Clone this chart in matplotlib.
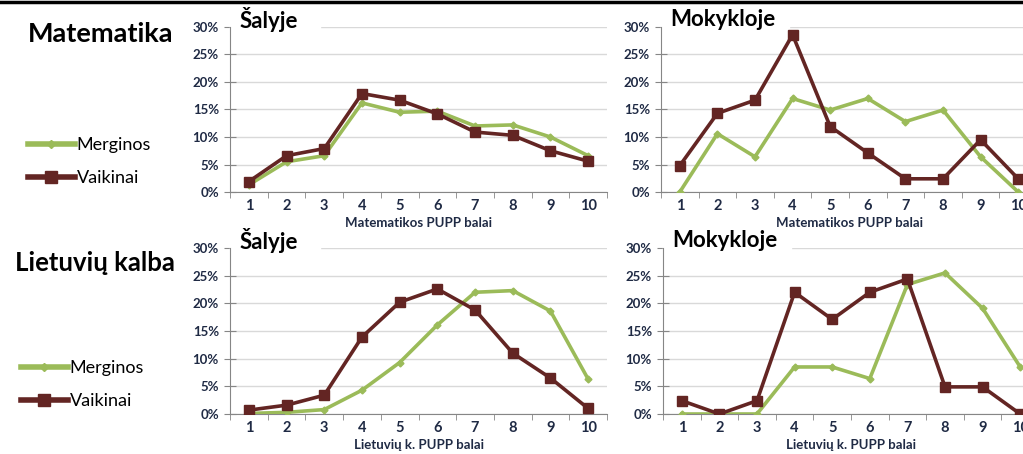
"""PUPP score distributions: girls vs boys, country vs school."""
import matplotlib
matplotlib.use("Agg")
import matplotlib.pyplot as plt
from matplotlib.lines import Line2D
from matplotlib.ticker import PercentFormatter

plt.rcParams['font.family'] = ['Lato', 'DejaVu Sans']

# scores 1..10
scores = [1, 2, 3, 4, 5, 6, 7, 8, 9, 10]

# Matematika, Šalyje (country)
mat_salyje_merg = [1.3, 5.5, 6.6, 16.2, 14.5, 14.7, 12.0, 12.2, 10.0, 6.6]
mat_salyje_vaik = [1.9, 6.6, 7.9, 17.9, 16.7, 14.2, 10.9, 10.3, 7.5, 5.6]
# Matematika, Mokykloje (school)
mat_mok_merg = [0.0, 10.6, 6.4, 17.0, 14.9, 17.0, 12.8, 14.9, 6.4, 0.0]
mat_mok_vaik = [4.8, 14.3, 16.7, 28.6, 11.9, 7.1, 2.4, 2.4, 9.5, 2.4]
# Lietuvių kalba, Šalyje
lt_salyje_merg = [0.1, 0.3, 0.8, 4.3, 9.3, 16.1, 22.0, 22.3, 18.6, 6.3]
lt_salyje_vaik = [0.7, 1.6, 3.4, 13.9, 20.2, 22.6, 18.8, 11.0, 6.5, 1.0]
# Lietuvių kalba, Mokykloje
lt_mok_merg = [0.0, 0.0, 0.0, 8.5, 8.5, 6.4, 23.4, 25.5, 19.1, 8.5]
lt_mok_vaik = [2.4, 0.0, 2.4, 22.0, 17.1, 22.0, 24.4, 4.9, 4.9, 0.0]

GREEN = '#9BBB59'
DARKRED = '#632523'
TEXT = '#1F2A44'
GRID = '#D9D9D9'
AXIS = '#868686'

W, H = 1023, 454
fig = plt.figure(figsize=(W / 100, H / 100), dpi=100)


def px_axes(left, top, right, bottom):
    return fig.add_axes([left / W, 1 - bottom / H, (right - left) / W, (bottom - top) / H])


def draw_panel(ax, merg, vaik, title, xlabel, title_box_w):
    ax.plot(scores, merg, color=GREEN, lw=2.6, marker='D', ms=3.5, zorder=3)
    ax.plot(scores, vaik, color=DARKRED, lw=2.6, marker='s', ms=7, zorder=4)
    ax.set_xlim(0.5, 10.5)
    ax.set_ylim(0, 30)
    ax.set_yticks([0, 5, 10, 15, 20, 25, 30])
    ax.yaxis.set_major_formatter(PercentFormatter(decimals=0))
    ax.set_xticks(scores)
    ax.set_xticks([s + 0.5 for s in [0] + scores], minor=True)
    ax.tick_params(axis='x', which='major', length=0, pad=5, labelsize=10.5,
                   labelcolor=TEXT)
    ax.tick_params(axis='x', which='minor', length=4, color=AXIS, direction='out')
    ax.tick_params(axis='y', length=8, color=AXIS, direction='inout', pad=4,
                   labelsize=9.5, labelcolor=TEXT)
    for lab in ax.get_xticklabels() + ax.get_yticklabels():
        lab.set_fontweight('bold')
    ax.grid(axis='y', color=GRID, lw=1)
    ax.set_axisbelow(True)
    for s in ['top', 'right']:
        ax.spines[s].set_visible(False)
    ax.spines['left'].set_color(AXIS)
    ax.spines['bottom'].set_color(AXIS)
    ax.set_xlabel(xlabel, fontsize=9.5, fontweight='bold', color=TEXT, labelpad=3)
    # white box masking the top gridline behind the title
    ax.add_patch(plt.Rectangle((0.5, 28.5), title_box_w, 3, color='white',
                               zorder=2, clip_on=False, transform=ax.transData))
    ax.text(0.75, 31.4, title, fontsize=16, fontweight='bold', color='black',
            ha='left', va='center', zorder=5)


ax1 = px_axes(230, 27, 607, 192)
ax2 = px_axes(661, 27, 1037, 192)
ax3 = px_axes(230, 248, 607, 414)
ax4 = px_axes(663, 248, 1039, 414)

draw_panel(ax1, mat_salyje_merg, mat_salyje_vaik, 'Šalyje', 'Matematikos PUPP balai', 2.4)
draw_panel(ax2, mat_mok_merg, mat_mok_vaik, 'Mokykloje', 'Matematikos PUPP balai', 3.4)
draw_panel(ax3, lt_salyje_merg, lt_salyje_vaik, 'Šalyje', 'Lietuvių k. PUPP balai', 2.4)
draw_panel(ax4, lt_mok_merg, lt_mok_vaik, 'Mokykloje', 'Lietuvių k. PUPP balai', 3.4)

fig.text(28 / W, 1 - 34 / H, 'Matematika', fontsize=19.5, fontweight='bold',
         color='black', ha='left', va='center')
fig.text(15 / W, 1 - 263 / H, 'Lietuvių kalba', fontsize=18.5, fontweight='bold',
         color='black', ha='left', va='center')

handles = [Line2D([], [], color=GREEN, lw=4, marker='D', ms=4),
           Line2D([], [], color=DARKRED, lw=4, marker='s', ms=8)]
labels = ['Merginos', 'Vaikinai']
for x0, y0 in [(28, 137), (21, 360)]:
    fig.legend(handles, labels, loc='upper left',
               bbox_to_anchor=(x0 / W, 1 - y0 / H), frameon=False,
               fontsize=13, handlelength=2.6, handletextpad=0.1,
               labelspacing=0.95, borderpad=0, borderaxespad=0,
               labelcolor='black')

fig.add_artist(Line2D([0, 1], [1 - 2 / H, 1 - 2 / H], color='black', lw=2.5))

fig.savefig('out.png', dpi=100)
